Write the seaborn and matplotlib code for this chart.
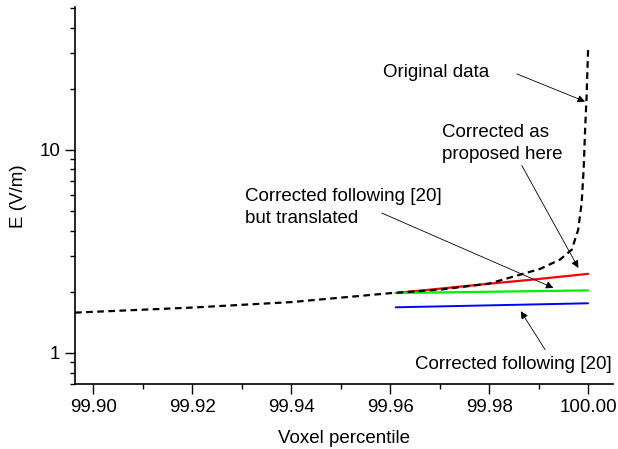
import numpy as np
import pandas as pd
import seaborn as sns
import matplotlib
matplotlib.use("Agg")
import matplotlib.pyplot as plt
from matplotlib.ticker import MultipleLocator, LogLocator, NullFormatter, FixedLocator, FixedFormatter

# data
orig_x = [99.8963, 99.92, 99.94, 99.9601, 99.9701, 99.98, 99.9903, 99.9943,
          99.9967, 99.998, 99.9987, 99.9991, 99.9994, 99.9997, 100.0]
orig_y = [1.578, 1.671, 1.778, 1.968, 2.048, 2.193, 2.59, 2.876,
          3.22, 4.04, 5.47, 7.97, 12.54, 18.29, 31.0]

corr_x = [99.9611, 99.97, 99.98, 99.99, 100.0]
red_y = [1.97, 2.07, 2.19, 2.31, 2.45]

line_x = [99.9611, 100.0]
green_y = [1.97, 2.03]
blue_y = [1.676, 1.754]

sns.set_style("ticks")
plt.rcParams["font.family"] = ["Liberation Sans", "DejaVu Sans"]
plt.rcParams["text.color"] = "black"
plt.rcParams["axes.labelcolor"] = "black"
plt.rcParams["xtick.color"] = "black"
plt.rcParams["ytick.color"] = "black"

fig = plt.figure(figsize=(6.18, 4.49), dpi=100)
ax = fig.add_axes([0.1214, 0.1441, 0.8706, 0.8396])

sns.lineplot(x=corr_x, y=red_y, color="#ff0000", lw=1.6, ax=ax)
sns.lineplot(x=line_x, y=green_y, color="#00f000", lw=1.6, ax=ax)
sns.lineplot(x=line_x, y=blue_y, color="#0000ff", lw=1.4, ax=ax)
sns.lineplot(x=orig_x, y=orig_y, color="black", lw=1.6, linestyle=(0, (3, 2)), ax=ax)

ax.set_yscale("log")
ax.set_xlim(99.8963, 100.00505)
ax.set_ylim(0.70, 50.3)

ax.xaxis.set_major_locator(MultipleLocator(0.02))
ax.xaxis.set_minor_locator(MultipleLocator(0.01))
ax.xaxis.set_major_formatter(plt.FormatStrFormatter("%.2f"))
ax.yaxis.set_major_locator(FixedLocator([1, 10]))
ax.yaxis.set_major_formatter(FixedFormatter(["1", "10"]))
ax.yaxis.set_minor_locator(LogLocator(base=10, subs=np.arange(2, 10)))
ax.yaxis.set_minor_formatter(NullFormatter())

ax.tick_params(which="major", direction="out", length=7.5, width=1.0, labelsize=13.5, pad=3)
ax.tick_params(which="minor", direction="out", length=3.5, width=1.0)
sns.despine(ax=ax)
for s in ["left", "bottom"]:
    ax.spines[s].set_linewidth(1.2)
    ax.spines[s].set_color("black")

ax.set_xlabel("Voxel percentile", fontsize=13.5, labelpad=10)
ax.set_ylabel("E (V/m)", fontsize=13.5, labelpad=9)

arr = dict(arrowstyle="-|>", color="black", lw=0.6, mutation_scale=11, shrinkA=0, shrinkB=0)
fs = 13.5

ax.text(99.9586, 22.9, "Original data", fontsize=fs, va="baseline")
ax.annotate("", xy=(99.99939, 17.28), xytext=(99.98559, 23.65), arrowprops=arr)

ax.text(99.97039, 9.03, "Corrected as\nproposed here", fontsize=fs, va="baseline", linespacing=1.4)
ax.annotate("", xy=(99.99804, 2.619), xytext=(99.98660, 8.37), arrowprops=arr)

ax.text(99.93067, 4.36, "Corrected following [20]\nbut translated", fontsize=fs, va="baseline", linespacing=1.4)
ax.annotate("", xy=(99.99299, 2.088), xytext=(99.95830, 4.88), arrowprops=arr)

ax.text(99.9650, 0.828, "Corrected following [20]", fontsize=fs, va="baseline")
ax.annotate("", xy=(99.98640, 1.602), xytext=(99.99131, 1.038), arrowprops=arr)

fig.savefig("out.png", dpi=100)
